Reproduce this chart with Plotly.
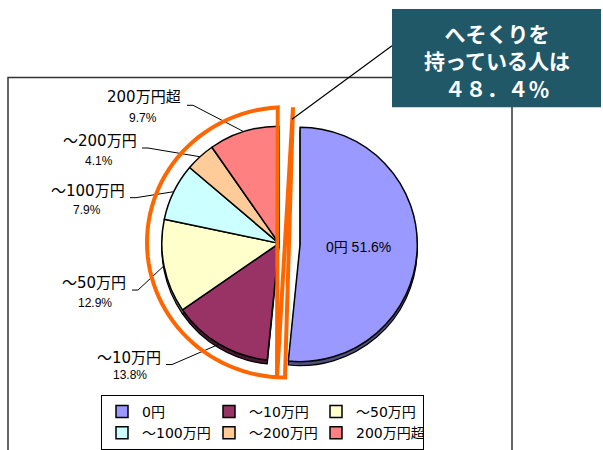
import math
import plotly.graph_objects as go

# ---------------- data ----------------
categories = ["0円", "～10万円", "～50万円", "～100万円", "～200万円", "200万円超"]
shares = [51.6, 13.8, 12.9, 7.9, 4.1, 9.7]
colors = ["#9999FF", "#993366", "#FFFFCC", "#CCFFFF", "#FFCC99", "#FF8080"]
side_colors = ["#50507F", "#4A1931", "#80806A", "#6A8080", "#80664D", "#804040"]
callout_lines = ["へそくりを", "持っている人は", "４８．４％"]

# ---------------- geometry helpers (pixels -> paper) ----------------
W, H = 603, 450
ML, MR, MT, MB = 90, 133, 0, 0
PW = W - ML - MR
PH = H - MT - MB


def px(x):
    return (x - ML) / PW


def py(y):
    return 1 - (y - MT) / PH


CX, CY = 279, 245
R = 118
PULL = 0.18
BOX = R * (2 + 2 * PULL)
DEPTH = 4

dom_x = [px(CX - BOX / 2), px(CX + BOX / 2)]
dom_y = [py(CY + BOX / 2), py(CY - BOX / 2)]
dom_y_shadow = [py(CY + DEPTH + BOX / 2), py(CY + DEPTH - BOX / 2)]

pulls = [PULL] + [0] * (len(shares) - 1)

NAME_FONT = "DejaVu Sans, Noto Sans CJK JP"
PCT_FONT = "Liberation Sans, Arial, Noto Sans CJK JP"

fig = go.Figure()

# 3D side (depth) of the pie
fig.add_trace(go.Pie(
    labels=categories, values=shares, sort=False, direction="clockwise", rotation=0,
    pull=pulls, domain=dict(x=dom_x, y=dom_y_shadow),
    marker=dict(colors=side_colors, line=dict(color="#000000", width=1.2)),
    textinfo="none", hoverinfo="skip", showlegend=False,
))

inner_text = [f"{categories[0]} {shares[0]:.1f}%"] + [""] * (len(shares) - 1)
fig.add_trace(go.Pie(
    labels=categories, values=shares, sort=False, direction="clockwise", rotation=0,
    pull=pulls, domain=dict(x=dom_x, y=dom_y),
    marker=dict(colors=colors, line=dict(color="#000000", width=1.5)),
    text=inner_text, textinfo="text", textposition="inside",
    insidetextorientation="horizontal",
    insidetextfont=dict(family=PCT_FONT, size=14, color="#000000"),
    showlegend=True,
))

shapes = []
annotations = []

# plot-area frame
shapes.append(dict(type="rect", xref="paper", yref="paper",
                   x0=px(8), x1=px(512), y0=py(460), y1=py(78),
                   line=dict(color="#333333", width=1.5), fillcolor="rgba(0,0,0,0)",
                   layer="below"))

# outside labels with leader lines (positions are layout, angles come from the data)
name_pos = [None, (129, 360), (94, 285), (88, 192), (100, 142), (144, 98)]
pct_pos = [None, (130, 378), (95, 305), (87, 211), (99, 162), (143, 119)]
stub_pos = [None, (166, 367), (132, 292), (130, 199), (142, 149), (187, 106)]

total = sum(shares)
cum = 0.0
for i, (cat, v) in enumerate(zip(categories, shares)):
    mid = (cum + v / 2) / total * 360.0
    cum += v
    if i == 0:
        continue
    ex = CX + R * math.sin(math.radians(mid))
    ey = CY - R * math.cos(math.radians(mid))
    sx, sy = stub_pos[i]
    path = (f"M {px(sx)} {py(sy)} L {px(sx + 6)} {py(sy)} L {px(ex)} {py(ey)}")
    shapes.append(dict(type="path", xref="paper", yref="paper", path=path,
                       line=dict(color="#000000", width=1), layer="above"))
    nx, ny = name_pos[i]
    annotations.append(dict(x=px(nx), y=py(ny), xref="paper", yref="paper",
                            text=cat, showarrow=False, xanchor="center", yanchor="middle",
                            font=dict(family=NAME_FONT, size=15, color="#000000")))
    qx, qy = pct_pos[i]
    annotations.append(dict(x=px(qx), y=py(qy), xref="paper", yref="paper",
                            text=f"{v:.1f}%", showarrow=False, xanchor="center", yanchor="middle",
                            font=dict(family=PCT_FONT, size=12, color="#000000")))

# orange highlight outline around the non-zero slices
ecx, ecy, erx, ery = 285, 244, 138, 136
pts = [(293, 108)]
n = 60
for k in range(n + 1):
    t = -math.pi / 2 - k * (math.pi / n)
    x = ecx + erx * math.cos(t)
    y = ecy - ery * math.sin(t)
    pts.append((x, y))
pts[-1] = (277, 381)
path = "M " + " L ".join(f"{px(x)} {py(y)}" for x, y in pts) + " Z"
shapes.append(dict(type="path", xref="paper", yref="paper", path=path,
                   line=dict(color="#FF6600", width=4), fillcolor="rgba(0,0,0,0)",
                   layer="above"))

# callout pointer + box
shapes.append(dict(type="line", xref="paper", yref="paper",
                   x0=px(292), y0=py(120), x1=px(392), y1=py(46),
                   line=dict(color="#000000", width=1.2), layer="above"))
shapes.append(dict(type="rect", xref="paper", yref="paper",
                   x0=px(392), x1=px(601), y0=py(108), y1=py(9),
                   line=dict(width=0), fillcolor="#215868", layer="above"))
annotations.append(dict(x=px(497), y=py(61), xref="paper", yref="paper",
                        text="<br>".join(callout_lines), showarrow=False,
                        xanchor="center", yanchor="middle", align="center",
                        font=dict(family="Noto Sans CJK JP", size=21, color="#FFFFFF",
                                  weight="bold")))

fig.update_layout(
    width=W, height=H,
    margin=dict(l=ML, r=MR, t=MT, b=MB, pad=0),
    paper_bgcolor="#FFFFFF", plot_bgcolor="#FFFFFF",
    shapes=shapes, annotations=annotations,
    legend=dict(orientation="h", x=px(101), y=py(398), xanchor="left", yanchor="top",
                entrywidth=62, entrywidthmode="pixels",
                bordercolor="#000000", borderwidth=1, bgcolor="#FFFFFF",
                font=dict(family=NAME_FONT, size=14, color="#000000"),
                itemwidth=30, traceorder="normal"),
)

fig.write_html("out.html",
               config={"displayModeBar": False},
               post_script="document.body.style.margin='0';document.body.style.padding='0';")
